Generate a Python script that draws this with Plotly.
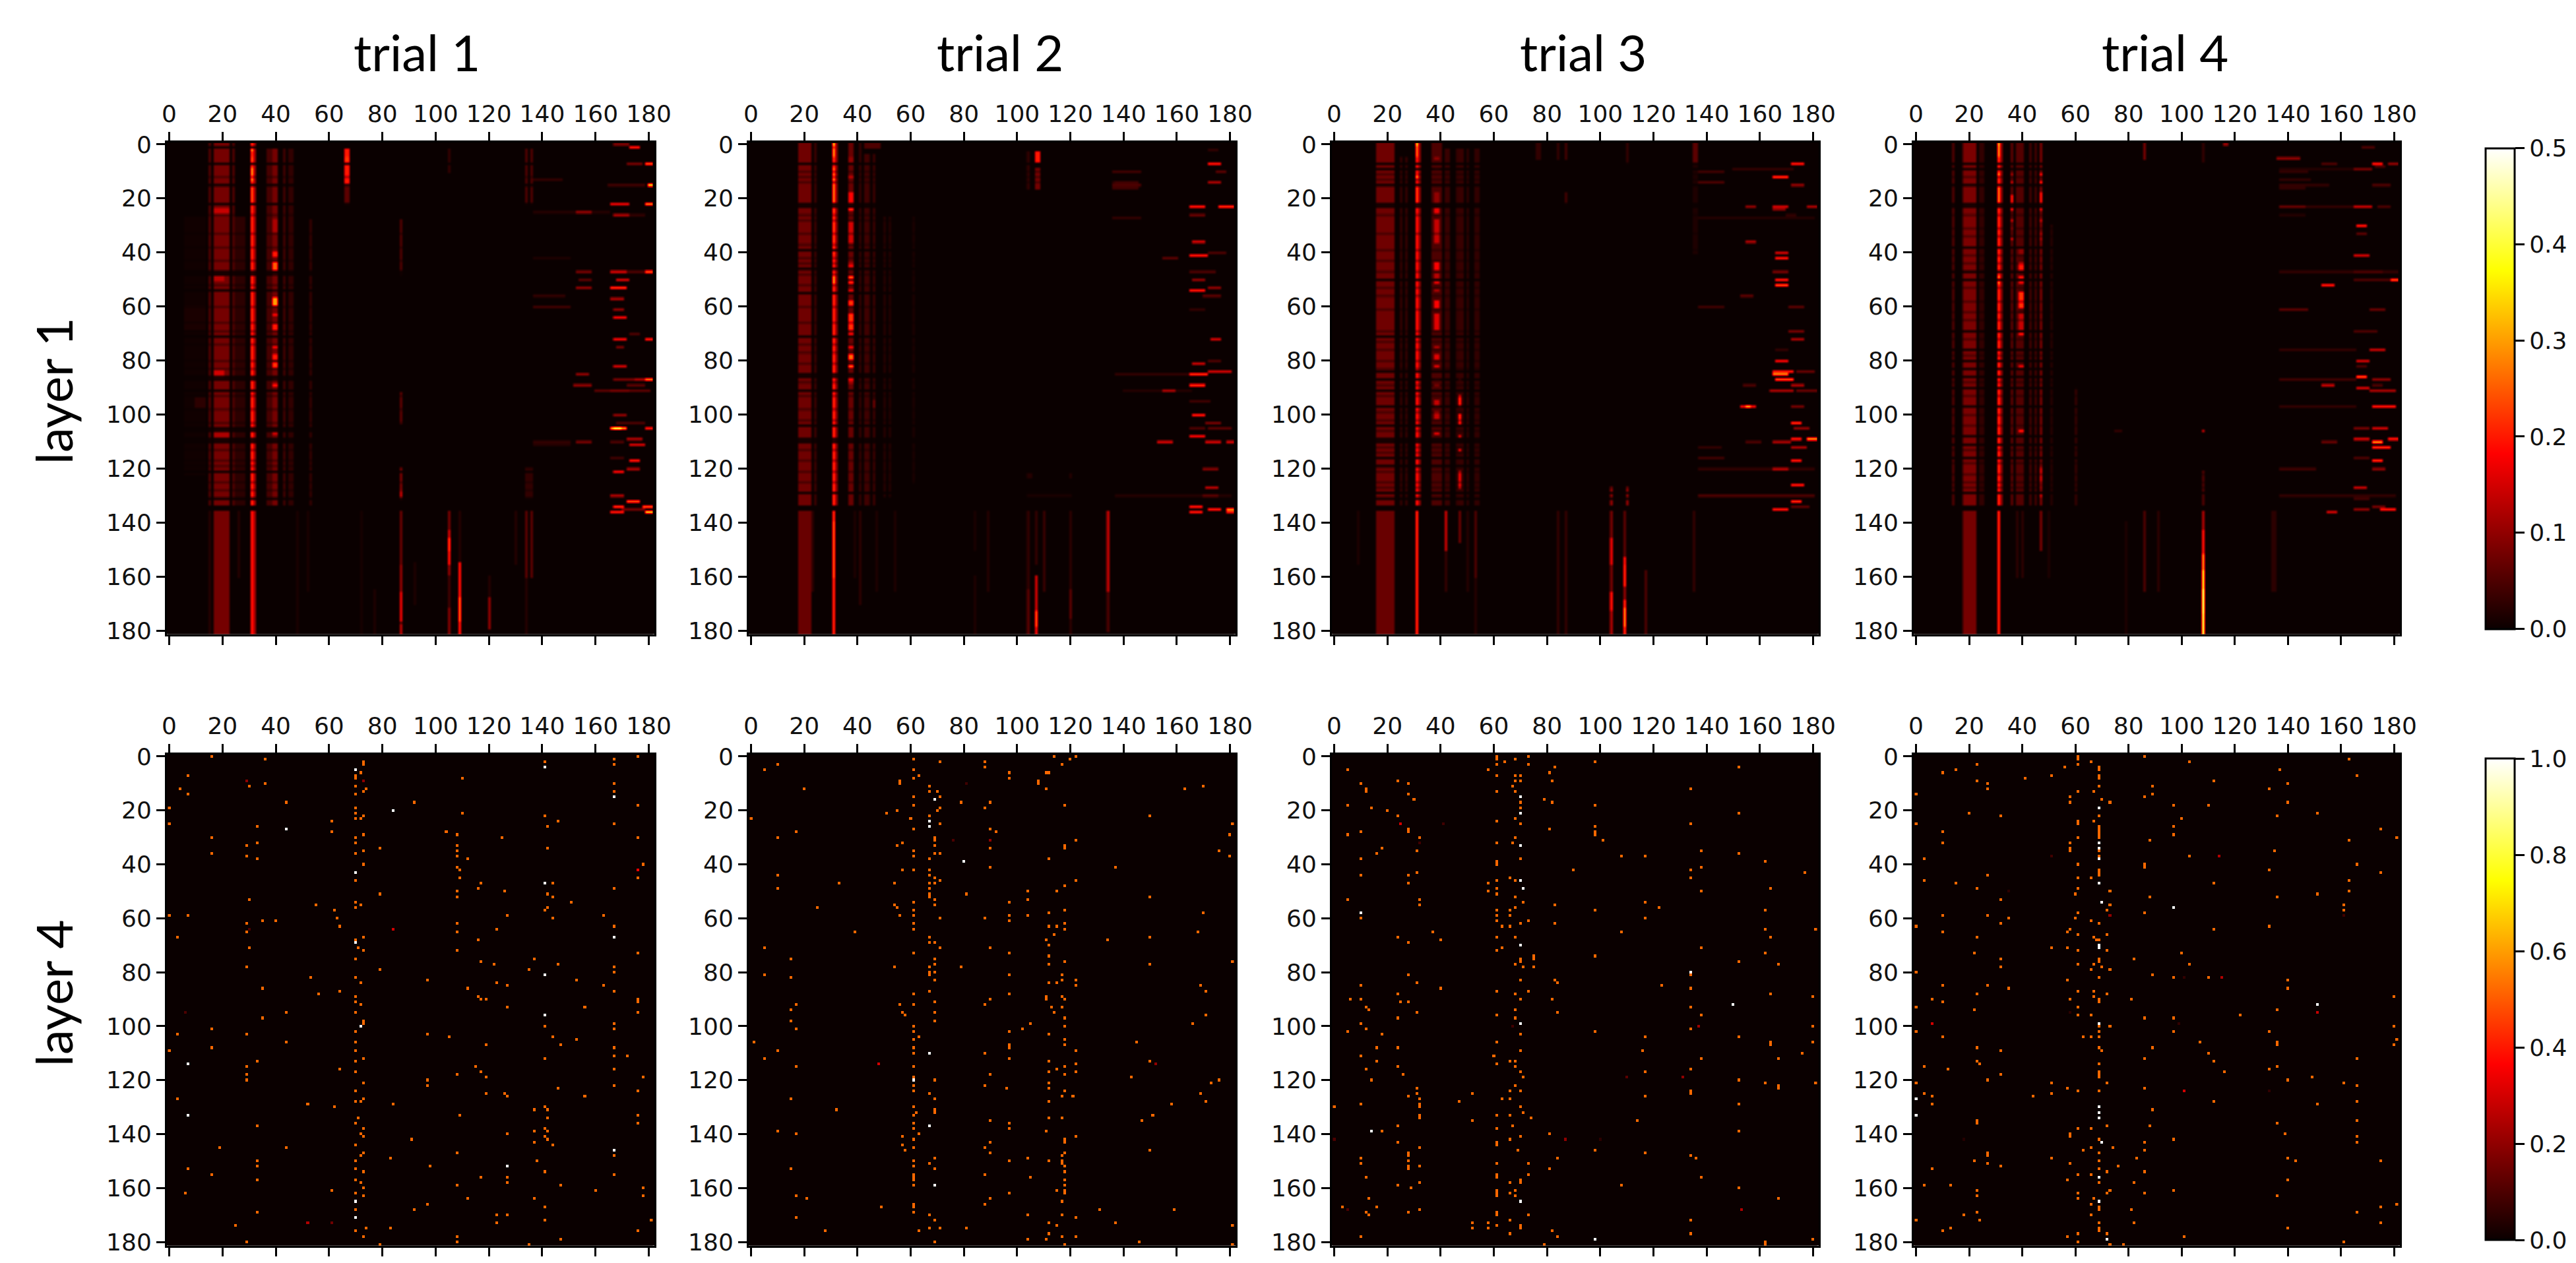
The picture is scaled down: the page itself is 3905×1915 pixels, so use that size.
import numpy as np
import plotly.graph_objects as go

# ---------- labels and ticks ----------
trials = ["trial 1", "trial 2", "trial 3", "trial 4"]
layers = ["layer 1", "layer 4"]
ticks = [0, 20, 40, 60, 80, 100, 120, 140, 160, 180]
l1_ticks = [0.0, 0.1, 0.2, 0.3, 0.4, 0.5]
l4_ticks = [0.0, 0.2, 0.4, 0.6, 0.8, 1.0]
N = 182

# ---------- layer 1: (x0, x1, y0, y1, value) ----------
t1_upper = [
    (15,15,0,133,.05),(17,22,0,133,.08),(24,24,0,133,.05),(25,28,27,133,.025),(31,31,0,133,.22),(32,32,0,133,.12),
    (37,38,2,133,.045),(39,40,2,133,.08),(43,43,2,133,.04),(45,46,2,133,.03),(53,53,28,133,.03),
    (66,67,2,15,.2),(66,67,16,22,.06),(87,87,28,48,.05),(87,87,92,103,.06),(87,87,120,131,.08),
    (105,105,2,10,.03),(134,134,2,22,.05),(136,136,2,22,.05),(134,136,120,131,.03),(6,13,27,122,.005),(6,13,60,68,.012),(10,13,94,97,.025),
    (17,22,24,25,.14),(17,20,49,50,.13),(17,20,84,86,.15),(17,22,106,108,.12),
    (31,31,2,2,.31),(31,31,5,7,.25),(31,31,9,13,.3),(31,31,16,21,.25),(31,31,131,131,.24),
    (39,40,28,32,.12),(39,40,40,41,.2),(39,40,44,46,.25),(39,40,48,48,.22),(39,40,54,54,.2),(39,40,57,59,.3),
    (39,40,63,63,.18),(39,40,67,68,.2),(39,40,75,75,.18),(39,40,78,79,.2),(39,40,81,82,.22),(39,40,87,87,.15),(39,40,89,89,.2),(39,40,107,107,.15),
    (66,67,5,7,.22),(87,87,128,131,.14),
]
t1_dark = [1,7,15,22,47,48,54,71,86,87,91,105,106,109,110,121,131]
t1_dim = [12,26,33,38,43,52,60,66,69,74,80,83,93,98,103,113,117,119,125,128]
t1_lower = [
    (17,22,136,181,.08),(15,15,136,181,.02),(26,26,136,160,.02),(31,31,136,181,.2),(32,32,136,181,.12),(48,48,136,181,.012),(52,52,136,165,.012),
    (72,72,136,181,.01),(77,77,165,181,.015),(87,87,136,155,.07),(87,87,156,165,.1),(87,87,166,176,.17),(87,87,177,177,.06),(87,87,178,181,.13),
    (92,92,155,170,.015),(105,105,136,142,.08),(105,105,143,145,.15),(105,105,146,150,.24),(105,105,151,155,.2),(105,105,156,159,.1),(105,105,160,171,.04),(105,105,172,181,.09),
    (109,109,136,154,.02),(109,109,155,181,.2),(109,109,168,176,.27),(120,120,160,167,.02),(120,120,168,179,.1),(130,130,136,155,.02),(134,134,136,160,.06),(136,136,136,160,.06),(134,134,161,181,.02),
]
t1_streaks = [
    (167,172,0,.08),(173,176,1,.2),(172,177,7,.08),(179,181,7,.25),(137,147,13,.03),(165,178,15,.04),(180,181,15,.35),(166,172,22,.17),(179,181,22,.28),
    (153,158,25,.1),(137,165,25,.02),(167,172,26,.12),(172,178,26,.03),(137,150,42,.015),(153,158,47,.08),(166,171,47,.15),(171,178,47,.05),(179,181,47,.25),
    (154,158,50,.06),(168,172,50,.15),(153,158,53,.1),(166,171,53,.22),(137,148,56,.03),(166,170,57,.12),(137,150,60,.04),(167,170,61,.1),(167,171,64,.18),
    (173,176,70,.05),(167,171,72,.18),(179,181,72,.2),(168,170,75,.08),(167,171,82,.15),(153,157,85,.1),(167,175,87,.08),(175,178,87,.12),(179,181,87,.28),
    (152,158,89,.1),(172,178,89,.06),(160,180,91,.06),(166,172,91,.08),(167,171,100,.1),(168,178,103,.05),(166,171,105,.3),(167,169,105,.42),(179,181,105,.2),
    (172,177,109,.12),(153,158,110,.08),(137,150,110,.03),(166,170,110,.05),(173,178,111,.15),(137,150,111,.02),(166,170,116,.04),(173,176,117,.2),(172,176,120,.12),
    (167,170,121,.18),(166,170,130,.12),(172,176,132,.25),(167,170,134,.22),(178,181,134,.25),(170,178,135,.08),(166,170,136,.2),(179,181,136,.35),
]

t2_upper = [
    (18,22,0,133,.075),(24,24,0,133,.035),(31,31,0,133,.22),(32,32,0,133,.1),(37,38,0,133,.07),(41,41,0,133,.03),(43,44,4,133,.04),(46,46,4,133,.035),
    (50,50,27,130,.02),(52,52,27,130,.018),(61,61,27,125,.012),(43,48,0,1,.05),(107,108,3,6,.2),(107,108,9,16,.08),(104,104,3,16,.03),(136,145,14,16,.04),
    (31,31,0,0,.34),(31,31,2,4,.3),(31,31,9,11,.28),(31,31,12,13,.3),(31,31,15,21,.28),(31,31,24,40,.24),(31,31,49,51,.3),
    (37,38,5,6,.1),(37,38,12,12,.2),(37,38,18,22,.18),(37,38,24,24,.22),(37,38,29,36,.15),(37,38,44,46,.18),(37,38,49,49,.26),(37,38,51,51,.22),(37,38,54,54,.16),
    (37,38,58,59,.22),(37,38,63,68,.22),(37,38,70,70,.18),(37,38,75,75,.18),(37,38,78,79,.26),(37,38,82,82,.26),(37,38,86,88,.18),
    (46,46,95,97,.07),(104,105,122,123,.02),(120,120,122,123,.02),(104,120,129,130,.012),
]
t2_dark = [7,22,23,39,46,55,71,85,86,91,104,109,110,129]
t2_dim = [10,12,14,26,28,33,37,42,44,48,52,60,66,74,77,81,88,93,98,102,113,117,121,125]
t2_lower = [
    (18,22,136,181,.07),(22,23,136,165,.025),(31,31,136,181,.22),(31,31,140,160,.26),(39,39,136,160,.015),(41,41,136,170,.025),(47,47,136,165,.015),(54,54,136,165,.015),
    (84,84,160,181,.015),(84,84,136,150,.012),(89,89,136,165,.02),(104,104,165,181,.06),(104,104,136,164,.03),(107,107,136,155,.03),(107,107,160,172,.15),(107,107,173,178,.26),(107,107,179,181,.18),
    (110,110,136,165,.035),(120,120,136,181,.025),(120,120,165,175,.06),(134,134,136,165,.14),(134,134,166,180,.05),
]
t2_streaks = [
    (172,175,2,.03),(172,176,7,.2),(136,146,10,.04),(175,178,10,.06),(172,176,14,.12),(136,146,15,.05),(165,170,23,.2),(176,181,23,.22),(165,170,26,.07),(136,146,27,.03),
    (166,170,36,.15),(172,178,40,.05),(165,171,41,.2),(155,160,42,.06),(165,174,47,.05),(166,170,50,.1),(172,176,53,.1),(165,170,54,.2),(170,176,56,.06),(165,170,61,.03),
    (173,176,72,.15),(172,176,80,.05),(166,170,81,.14),(172,180,84,.15),(165,171,85,.22),(137,165,85,.03),(165,170,89,.22),(155,159,91,.12),(140,165,91,.02),(165,172,95,.04),
    (166,170,100,.2),(171,176,103,.08),(165,170,105,.05),(172,180,105,.06),(165,170,108,.18),(153,158,110,.15),(171,176,110,.15),(179,181,110,.15),(170,175,120,.09),
    (171,175,127,.13),(137,180,130,.02),(170,175,130,.06),(165,169,134,.2),(172,176,135,.2),(179,181,135,.28),(165,169,136,.2),(179,181,136,.2),
]

t3_upper = [
    (16,22,0,133,.075),(25,25,5,133,.03),(27,27,5,133,.03),(31,31,0,133,.2),(32,32,0,133,.1),(37,40,0,133,.05),(42,43,2,133,.035),(46,46,2,133,.03),(47,48,2,133,.035),
    (50,50,2,133,.025),(53,54,2,133,.03),(76,77,0,5,.03),(84,84,0,5,.03),(87,87,0,5,.04),(87,87,18,22,.04),(110,110,0,7,.03),(135,136,0,7,.06),(135,136,8,40,.015),
    (104,104,127,133,.1),(110,110,127,133,.1),
    (31,31,0,0,.35),(31,31,1,4,.27),(31,31,9,9,.2),(31,31,11,12,.3),(31,31,16,21,.24),
    (38,39,5,5,.1),(38,39,9,9,.11),(38,39,18,22,.1),(38,39,24,25,.17),(38,39,28,36,.14),(38,39,44,46,.18),(38,39,48,49,.13),(38,39,51,51,.17),(38,39,54,54,.12),
    (38,39,58,60,.18),(38,39,63,68,.16),(38,39,75,75,.12),(38,39,78,79,.16),(38,39,82,82,.16),(38,39,87,87,.12),(38,39,89,89,.12),(38,39,95,97,.14),(38,39,99,101,.14),(38,39,107,107,.16),
    (47,47,87,87,.2),(47,47,93,97,.22),(47,47,100,103,.22),(47,47,108,108,.17),(47,47,113,113,.18),(47,47,121,126,.18),(47,47,127,127,.2),
]
t3_dark = [7,9,15,22,23,50,71,84,87,91,97,104,109,110,116,119,129,131]
t3_dim = [11,13,26,33,39,43,47,53,56,61,69,73,76,80,83,89,93,99,102,106,112,114,121,125,127]
t3_lower = [
    (16,22,136,181,.07),(31,31,136,181,.22),(42,42,136,150,.14),(42,42,151,165,.03),(47,47,136,147,.07),(53,53,136,160,.05),(53,53,161,181,.02),(50,50,136,165,.02),
    (9,9,136,155,.015),(84,84,136,181,.03),(87,87,136,181,.03),(104,104,136,145,.08),(104,104,146,155,.17),(104,104,156,165,.08),(104,104,166,172,.2),(104,104,173,181,.12),
    (109,109,136,152,.06),(109,109,153,155,.2),(109,109,156,163,.22),(109,109,164,168,.1),(109,109,169,181,.22),(109,109,172,178,.3),(117,117,158,181,.05),(135,135,136,165,.03),
]
t3_streaks = [
    (172,176,7,.2),(150,172,9,.03),(137,146,10,.04),(165,170,12,.22),(137,146,14,.05),(172,176,15,.1),(155,158,23,.1),(165,170,23,.15),(178,181,23,.12),(165,169,24,.1),(170,173,26,.03),(137,180,27,.02),
    (155,158,36,.12),(166,170,40,.15),(166,170,42,.2),(165,170,47,.08),(166,170,50,.2),(166,170,52,.25),(153,157,56,.06),(137,146,60,.04),(171,176,60,.06),(171,176,69,.08),(172,176,72,.12),(166,170,76,.03),(166,170,80,.18),
    (165,172,84,.2),(174,180,84,.07),(165,170,85,.28),(166,172,87,.25),(172,176,89,.12),(154,158,89,.05),(164,172,91,.12),(174,181,91,.07),(153,158,97,.18),(155,156,97,.32),(172,176,97,.08),
    (172,175,103,.22),(173,178,105,.1),(172,175,109,.2),(178,181,109,.3),(155,160,110,.05),(165,171,110,.12),(172,177,112,.12),(137,145,112,.03),(137,146,116,.04),(172,175,117,.2),(165,170,120,.13),(137,180,120,.03),
    (172,176,126,.2),(137,180,130,.05),(172,175,132,.22),(172,178,134,.06),(165,170,135,.2),
]

t4_upper = [
    (14,14,0,133,.05),(18,22,0,133,.085),(24,25,0,133,.03),(31,31,0,133,.22),(32,32,0,133,.1),(36,36,0,133,.06),(38,40,0,133,.055),(43,43,0,133,.04),(45,45,0,133,.04),(47,47,0,133,.08),
    (51,51,30,133,.02),(60,60,90,133,.03),(86,86,0,5,.08),(108,108,0,6,.03),(116,117,0,0,.1),(108,108,121,133,.05),(75,77,106,106,.03),(108,108,106,106,.14),
    (31,31,0,0,.33),(31,31,1,4,.3),(31,31,6,6,.2),(31,31,11,11,.3),(31,31,16,21,.28),(31,31,49,51,.3),
    (36,36,11,11,.12),(36,36,14,14,.15),(36,36,19,22,.2),(36,36,24,24,.2),(36,36,28,28,.15),(36,36,31,31,.13),(36,36,35,35,.15),
    (39,40,39,40,.1),(39,40,44,46,.2),(39,40,49,49,.2),(39,40,51,51,.18),(39,40,55,60,.22),(39,40,63,68,.14),(39,40,70,70,.2),(39,40,82,82,.17),(39,40,106,106,.2),
    (47,47,11,11,.2),(47,47,14,14,.22),(47,47,18,22,.2),(47,47,24,24,.18),(47,47,28,28,.15),(47,47,33,35,.12),(47,47,120,125,.15),(47,47,127,127,.15),(47,47,130,130,.15),
]
t4_dark = [7,9,15,22,23,38,47,50,69,76,80,83,86,90,97,108,111,116,129]
t4_dim = [12,26,31,34,41,44,53,58,62,65,72,78,88,93,100,104,113,118,122,125,127]
t4_lower = [
    (18,22,136,181,.08),(31,31,136,181,.22),(47,47,136,150,.08),(38,38,136,160,.025),(40,40,136,160,.025),(50,50,136,160,.015),(79,79,140,181,.015),(86,86,136,165,.05),(91,91,136,165,.025),
    (108,108,136,142,.12),(108,108,143,151,.2),(108,108,152,157,.3),(108,108,158,164,.38),(108,108,165,173,.44),(108,108,174,181,.42),(134,135,136,165,.025),
]
t4_streaks = [
    (168,172,1,.05),(136,144,5,.1),(172,175,7,.2),(178,181,7,.1),(153,158,7,.05),(173,176,8,.05),(165,171,9,.08),(137,165,9,.02),(137,147,10,.03),(137,148,13,.03),(137,155,15,.03),(172,178,15,.05),(137,146,16,.03),
    (137,146,23,.07),(146,165,23,.03),(165,171,23,.14),(174,178,23,.05),(137,146,26,.02),(166,169,30,.2),(166,169,33,.06),(165,170,41,.15),(137,181,47,.03),(165,175,47,.05),(165,178,50,.05),(179,181,50,.25),(153,157,52,.2),
    (137,147,61,.06),(171,176,61,.07),(165,173,69,.05),(137,165,76,.03),(171,176,76,.14),(166,170,80,.15),(166,169,82,.05),(166,169,86,.25),(137,165,87,.04),(172,178,87,.1),(153,157,89,.14),(172,175,89,.05),(166,170,90,.15),(171,180,91,.12),
    (172,180,97,.2),(137,165,97,.03),(165,170,105,.08),(172,177,105,.15),(165,170,109,.15),(178,181,109,.2),(172,175,110,.3),(153,158,110,.07),(172,178,112,.22),(165,170,116,.05),(172,175,117,.22),(172,176,120,.1),(137,150,120,.04),
    (165,169,127,.14),(137,180,130,.03),(165,170,131,.04),(172,176,134,.08),(165,170,135,.1),(175,180,135,.2),(155,158,136,.15),
]

# ---------- layer 4: (x, y) ----------
t1_orange = [(16,0),(36,1),(73,2),(73,3),(141,2),(176,0),(167,1),(167,3),(72,6),(70,7),(70,8),(7,7),(110,8),(167,10),(36,10),(30,11),(70,11),(4,12),(74,12),(73,13),(167,13),(7,14),(70,14),(44,17),(92,17),(0,19),(70,19),(176,18),(110,21),(70,21),(70,23),(72,23),(73,22),(141,22),(146,24),(61,24),(0,25),(167,25),(142,26),(33,26),(61,28),(104,28),(73,29),(108,29),(70,30),(16,30),(125,30),(176,30),(33,32),(70,32),(29,33),(108,33),(79,34),(142,34),(16,36),(70,36),(108,35),(73,35),(29,37),(108,37),(33,38),(112,38),(73,40),(178,40),(108,41),(109,42),(70,46),(109,45),(176,45),(117,47),(144,47),(116,49),(167,49),(126,50),(108,50),(79,51),(142,51),(108,52),(144,52),(30,53),(70,54),(151,54),(55,55),(72,55),(70,56),(142,56),(62,57),(141,57),(0,59),(7,59),(127,59),(163,59),(63,60),(144,60),(29,62),(35,61),(40,61),(108,62),(64,63),(167,63),(123,64),(29,65),(108,65),(73,67),(3,67),(116,68),(70,68),(71,71),(30,71),(73,72),(108,72),(176,73),(70,75),(117,76),(137,75),(122,77),(146,77),(29,78),(167,78),(79,79),(135,79),(167,80),(53,82),(70,82),(97,83),(153,83),(72,84),(123,84),(127,85),(163,85),(35,86),(112,86),(64,87),(167,87),(56,88),(70,89),(116,89),(176,90),(117,90),(119,90),(70,91),(176,91),(72,92),(127,93),(156,93),(44,95),(70,95),(176,95),(35,97),(73,98),(73,99),(141,100),(167,99),(16,101),(167,101),(3,103),(70,102),(29,103),(97,103),(105,104),(144,104),(44,106),(153,105),(70,106),(119,107),(147,107),(16,108),(167,108),(0,109),(70,109),(167,111),(172,111),(73,112),(141,112),(33,113),(70,113),(29,115),(115,115),(64,116),(167,116),(70,117),(117,117),(29,118),(108,118),(29,120),(97,120),(119,119),(178,119),(73,121),(97,122),(167,122),(146,123),(70,124),(176,124),(3,127),(119,125),(126,125),(127,126),(156,126),(70,128),(72,128),(73,127),(52,129),(84,129),(62,130),(141,130),(137,131),(142,131),(109,133),(71,134),(142,134),(176,133),(70,136),(33,137),(176,136),(73,138),(141,138),(137,139),(142,139),(127,140),(72,140),(73,141),(141,141),(91,142),(142,142),(137,143),(70,144),(144,144),(19,145),(44,145),(73,147),(108,147),(72,148),(167,148),(83,149),(33,150),(70,150),(138,150),(33,152),(98,152),(7,153),(70,153),(73,154),(141,154),(16,155),(167,155),(33,157),(70,157),(127,156),(117,156),(72,158),(127,158),(108,159),(147,159),(73,160),(178,160),(61,161),(160,161),(6,162),(70,162),(73,163),(178,163),(112,164),(137,164),(97,166),(141,167),(70,168),(33,169),(92,168),(123,170),(127,170),(141,172),(181,172),(123,173),(25,174),(74,175),(83,175),(70,176),(176,176),(108,178),(73,178),(147,179),(29,180),(108,180),(79,181),(135,181)]
t1_white = [(70,5),(141,4),(167,15),(84,20),(44,27),(70,43),(141,47),(70,69),(167,67),(141,81),(141,96),(72,100),(7,114),(7,133),(167,146),(127,152),(70,165),(70,171)]
t1_red = [(29,9,.2),(73,9,.2),(176,42,.35),(84,64,.3),(30,64,.1),(6,95,.1),(52,173,.25),(61,173,.15)]

t2_orange = [(5,5),(10,3),(61,1),(61,5),(63,7),(61,8),(56,9),(56,10),(71,2),(88,2),(88,4),(97,6),(97,8),(114,0),(117,3),(111,6),(122,0),(120,1),(108,9),(108,10),(112,6),(20,12),(67,11),(67,13),(70,13),(61,15),(71,15),(79,17),(90,17),(88,19),(61,18),(118,18),(70,20),(55,20),(71,19),(51,21),(67,22),(60,23),(0,23),(150,22),(61,27),(71,25),(181,25),(90,27),(92,28),(163,12),(170,11),(111,12),(10,30),(17,28),(69,30),(69,31),(90,34),(57,32),(55,33),(69,33),(71,36),(61,35),(61,37),(69,36),(118,33),(118,34),(122,31),(180,29),(176,35),(180,37),(67,38),(90,41),(112,38),(137,41),(10,44),(61,42),(57,42),(67,42),(67,44),(69,45),(71,46),(69,47),(54,47),(33,47),(67,47),(118,48),(122,46),(10,49),(67,49),(115,50),(104,50),(81,51),(67,51),(67,52),(150,52),(69,53),(104,53),(61,54),(97,54),(69,55),(54,55),(55,56),(25,56),(61,57),(118,57),(112,58),(170,58),(56,59),(61,59),(97,59),(104,59),(71,60),(88,60),(97,61),(61,62),(118,62),(112,63),(115,63),(118,64),(61,64),(39,65),(168,65),(67,67),(114,66),(111,68),(134,68),(150,67),(67,69),(69,69),(5,71),(112,70),(71,71),(90,71),(61,73),(97,73),(15,75),(69,75),(112,74),(118,76),(181,76),(69,77),(112,77),(150,77),(67,78),(54,78),(79,78),(69,80),(67,80),(67,81),(5,81),(97,81),(117,81),(15,82),(69,83),(112,84),(115,84),(117,83),(122,83),(122,85),(169,85),(171,87),(67,87),(61,88),(97,88),(111,89),(117,89),(118,90),(111,90),(90,90),(69,91),(88,92),(61,92),(17,92),(56,92),(113,93),(117,93),(15,94),(69,95),(57,95),(58,96),(114,95),(171,96),(118,97),(15,98),(69,98),(105,99),(166,99),(61,100),(118,100),(17,101),(102,101),(97,102),(61,102),(112,103),(63,104),(61,105),(118,105),(1,106),(145,106),(97,107),(97,108),(118,107),(10,109),(122,109),(61,108),(61,110),(88,110),(5,112),(97,112),(112,113),(150,113),(122,114),(17,115),(115,116),(118,115),(61,115),(112,117),(122,117),(90,118),(118,118),(143,119),(61,119),(69,120),(176,120),(173,121),(88,122),(112,121),(112,123),(96,123),(61,122),(61,124),(118,124),(67,125),(169,125),(117,126),(121,126),(15,127),(69,127),(171,128),(112,128),(158,129),(61,130),(32,131),(69,131),(69,132),(62,132),(61,133),(151,133),(112,134),(117,134),(90,135),(147,135),(61,136),(97,136),(97,138),(61,138),(10,139),(111,139),(17,140),(63,140),(57,141),(122,141),(118,142),(118,143),(61,142),(90,143),(57,144),(61,145),(88,145),(58,146),(150,146),(90,147),(118,147),(69,149),(117,148),(104,149),(112,150),(117,150),(61,150),(97,150),(67,151),(117,151),(61,152),(118,152),(15,153),(69,153),(118,154),(61,155),(61,156),(61,157),(88,155),(105,156),(118,157),(118,159),(61,159),(115,161),(97,162),(118,161),(118,162),(17,163),(21,164),(90,164),(117,165),(61,166),(61,167),(88,166),(49,167),(131,168),(159,168),(104,170),(61,169),(67,170),(117,170),(17,171),(122,171),(112,173),(69,172),(115,174),(137,173),(71,175),(181,174),(67,175),(81,175),(28,176),(63,176),(112,177),(117,178),(122,178),(104,179),(111,179),(69,180),(146,180),(181,181),(118,181)]
t2_white = [(69,16),(67,24),(67,26),(80,39),(67,110),(61,120),(67,137),(69,159)]
t2_red = [(48,114,.3),(152,114,.2),(81,10,.08),(76,31,.1),(90,31,.2)]

t3_orange = [(61,0),(61,1),(64,2),(68,1),(73,0),(98,2),(61,3),(73,3),(58,5),(5,5),(83,4),(81,6),(152,4),(70,7),(70,9),(68,7),(61,7),(82,9),(68,9),(10,10),(24,9),(28,10),(12,12),(12,13),(67,11),(134,12),(61,13),(68,13),(28,14),(30,16),(79,16),(82,17),(70,17),(70,19),(5,18),(14,19),(98,18),(20,20),(152,21),(24,22),(68,23),(61,24),(134,25),(70,25),(28,27),(28,28),(81,27),(98,26),(98,28),(98,29),(5,29),(10,28),(32,30),(101,31),(68,30),(67,32),(61,32),(18,34),(16,36),(31,35),(138,35),(108,37),(117,37),(152,36),(10,38),(70,38),(61,39),(61,40),(162,39),(138,41),(134,42),(90,42),(177,43),(10,44),(28,44),(31,43),(134,45),(66,45),(68,46),(61,46),(28,47),(58,47),(164,49),(61,49),(58,50),(138,50),(61,51),(68,52),(5,53),(32,53),(71,54),(117,54),(32,55),(83,55),(122,56),(68,56),(98,57),(162,57),(61,57),(66,57),(61,59),(66,59),(10,60),(117,60),(61,61),(73,61),(70,62),(83,62),(181,64),(63,63),(66,63),(162,64),(37,65),(108,65),(61,67),(164,67),(24,67),(68,67),(28,69),(40,68),(138,71),(63,71),(61,72),(162,73),(75,74),(75,75),(98,74),(70,75),(70,76),(152,76),(68,77),(167,77),(71,78),(75,78),(28,81),(134,81),(83,83),(84,84),(70,83),(10,85),(123,85),(31,84),(40,86),(134,86),(61,87),(73,87),(24,88),(68,88),(164,88),(180,89),(70,90),(82,90),(6,90),(10,90),(25,91),(28,91),(12,93),(13,94),(134,93),(68,94),(31,95),(84,95),(138,96),(61,96),(24,97),(68,97),(10,99),(180,100),(12,101),(134,101),(5,102),(98,102),(18,103),(70,103),(117,104),(152,104),(61,106),(164,106),(164,107),(180,106),(16,108),(24,108),(70,109),(116,109),(176,110),(10,111),(60,111),(138,112),(167,112),(66,113),(68,113),(16,113),(61,114),(24,115),(68,115),(12,116),(134,116),(70,117),(117,117),(26,118),(71,119),(14,120),(152,120),(68,122),(162,121),(167,122),(167,123),(181,121),(31,123),(66,124),(134,124),(134,125),(70,124),(31,125),(52,125),(28,126),(117,126),(32,127),(63,127),(66,127),(47,128),(32,129),(32,130),(10,129),(152,129),(0,130),(70,130),(71,132),(61,133),(66,133),(74,134),(32,133),(32,134),(52,135),(114,135),(24,137),(67,137),(61,138),(18,139),(152,139),(81,140),(70,141),(66,142),(61,143),(61,144),(24,143),(32,145),(69,146),(98,146),(117,147),(28,147),(28,148),(134,148),(136,149),(84,149),(10,149),(61,151),(73,151),(28,150),(10,151),(28,152),(32,152),(28,153),(81,153),(73,155),(61,155),(61,156),(138,156),(12,156),(66,158),(70,157),(24,159),(32,158),(108,159),(70,158),(29,160),(152,160),(61,161),(61,162),(61,163),(66,162),(68,161),(68,163),(13,164),(167,164),(3,167),(16,167),(12,169),(13,170),(32,168),(28,169),(61,169),(61,170),(73,170),(66,172),(134,172),(52,173),(58,173),(61,174),(70,174),(70,175),(52,175),(58,175),(82,176),(66,177),(134,177),(10,178),(84,178),(180,179),(162,180),(162,181),(79,181)]
t3_white = [(70,15),(70,21),(70,33),(70,46),(71,49),(10,58),(70,70),(134,80),(150,92),(70,99),(14,139),(70,165),(98,179)]
t3_red = [(25,25,.3),(41,25,.08),(32,32,.08),(67,100,.08),(137,100,.22),(110,119,.12),(131,119,.2),(87,142,.2),(0,142,.1),(153,168,.25),(5,168,.1),(100,142,.05)]

t4_orange = [(61,0),(61,1),(86,0),(66,2),(103,2),(163,1),(23,3),(61,3),(56,4),(69,4),(69,5),(15,5),(137,5),(10,6),(51,7),(69,7),(69,8),(166,7),(41,8),(23,9),(112,9),(27,10),(27,12),(140,10),(69,11),(89,11),(61,13),(67,13),(89,14),(133,12),(0,14),(86,15),(58,15),(70,16),(73,17),(58,17),(140,17),(97,18),(110,18),(20,21),(151,21),(32,22),(69,22),(100,23),(136,22),(61,24),(61,25),(67,24),(0,25),(97,26),(69,26),(69,27),(69,28),(69,29),(69,30),(175,27),(10,28),(97,29),(61,30),(181,30),(88,31),(163,31),(10,32),(58,32),(58,34),(69,35),(58,35),(69,37),(103,37),(135,35),(3,38),(61,40),(86,40),(86,41),(166,40),(133,42),(69,42),(69,43),(69,44),(175,43),(27,44),(61,45),(66,45),(3,46),(15,47),(112,47),(163,46),(23,49),(61,49),(73,50),(163,50),(60,51),(151,51),(88,52),(136,52),(32,53),(73,55),(161,55),(72,57),(161,57),(61,58),(86,58),(10,59),(27,59),(35,60),(60,60),(66,61),(32,62),(69,62),(0,63),(133,63),(58,64),(57,65),(112,64),(10,65),(61,66),(72,66),(23,67),(67,67),(68,68),(69,68),(51,71),(57,71),(61,72),(72,72),(100,73),(22,73),(82,75),(32,75),(69,75),(69,76),(103,77),(61,77),(67,77),(32,78),(70,78),(66,79),(73,79),(0,80),(89,81),(69,82),(97,82),(110,82),(57,83),(140,83),(10,85),(27,85),(35,86),(140,86),(61,87),(67,87),(23,88),(72,88),(67,89),(180,89),(69,90),(81,90),(6,90),(58,90),(10,91),(69,91),(0,93),(61,93),(22,94),(136,94),(61,96),(66,96),(122,96),(86,97),(97,97),(69,100),(0,102),(133,102),(73,100),(180,100),(97,102),(69,102),(63,104),(66,104),(10,104),(69,104),(107,106),(136,106),(136,107),(181,105),(23,108),(180,107),(69,108),(89,108),(32,109),(70,109),(110,110),(86,112),(166,112),(24,114),(23,113),(69,114),(112,113),(3,115),(12,116),(136,115),(133,116),(116,117),(32,118),(69,117),(69,118),(69,119),(27,120),(140,120),(149,119),(51,121),(72,121),(0,121),(161,121),(57,123),(166,122),(61,124),(86,123),(69,124),(51,125),(3,125),(6,126),(44,126),(112,128),(166,128),(6,129),(151,129),(89,131),(23,135),(23,136),(72,137),(88,137),(61,138),(66,138),(136,136),(166,135),(58,141),(58,140),(139,140),(69,142),(97,142),(166,141),(166,143),(86,143),(66,145),(74,145),(63,146),(86,146),(27,147),(27,148),(69,147),(140,149),(51,149),(83,149),(69,150),(22,150),(143,150),(175,150),(27,151),(58,151),(32,152),(76,152),(6,153),(69,153),(72,154),(86,154),(61,155),(66,155),(57,157),(140,157),(69,158),(82,158),(3,159),(13,159),(72,162),(73,161),(97,161),(23,161),(23,163),(86,162),(61,162),(136,163),(61,164),(67,164),(66,166),(181,166),(69,167),(69,168),(175,167),(81,168),(23,169),(166,169),(18,170),(66,170),(0,172),(24,172),(82,173),(69,173),(69,175),(175,173),(13,175),(140,175),(10,176),(69,176),(72,177),(61,177),(57,178),(101,178),(61,180),(161,180),(73,181),(78,181)]
t4_white = [(69,19),(69,32),(69,34),(69,38),(69,47),(70,54),(97,56),(69,70),(69,71),(151,92),(69,99),(0,127),(0,133),(69,130),(69,132),(69,134),(70,143),(69,156),(69,165),(72,179)]
t4_red = [(6,99,.3),(151,95,.28),(51,37,.08),(114,37,.25),(115,82,.25),(101,82,.06),(73,59,.2),(161,59,.08),(35,50,.05),(58,95,.05),(99,99,.06),(101,124,.3),(133,124,.06),(18,142,.04)]

ORANGE_VALUE = 0.52
WHITE_VALUE = 1.0


def layer1_matrix(upper, dark, dim, lower, streaks):
    z = np.zeros((N, N))
    for x0, x1, y0, y1, v in upper:
        z[y0:y1 + 1, x0:x1 + 1] = np.maximum(z[y0:y1 + 1, x0:x1 + 1], v)
    for r in dim:
        z[r, :137] *= 0.65
    for r in dark:
        z[r, :137] *= 0.12
    for x0, x1, y0, y1, v in lower:
        z[y0:y1 + 1, x0:x1 + 1] = np.maximum(z[y0:y1 + 1, x0:x1 + 1], v)
    for x0, x1, y, v in streaks:
        z[y, x0:x1 + 1] = np.maximum(z[y, x0:x1 + 1], v)
    return z


def layer4_matrix(orange, white, red):
    z = np.zeros((N, N))
    for x, y in orange:
        z[y, x] = ORANGE_VALUE
    for x, y in white:
        z[y, x] = WHITE_VALUE
    for x, y, v in red:
        z[y, x] = v
    return z


layer1 = [
    layer1_matrix(t1_upper, t1_dark, t1_dim, t1_lower, t1_streaks),
    layer1_matrix(t2_upper, t2_dark, t2_dim, t2_lower, t2_streaks),
    layer1_matrix(t3_upper, t3_dark, t3_dim, t3_lower, t3_streaks),
    layer1_matrix(t4_upper, t4_dark, t4_dim, t4_lower, t4_streaks),
]
layer4 = [
    layer4_matrix(t1_orange, t1_white, t1_red),
    layer4_matrix(t2_orange, t2_white, t2_red),
    layer4_matrix(t3_orange, t3_white, t3_red),
    layer4_matrix(t4_orange, t4_white, t4_red),
]

# ---------- figure ----------
W, H = 3905, 1915
FONT_TICK = "DejaVu Sans"
FONT_TITLE = "Lato"
TICK_SIZE = 36
hot = [[0, "rgb(10,0,0)"], [0.365, "rgb(255,0,0)"], [0.746, "rgb(255,255,0)"], [1, "rgb(255,255,255)"]]
panel_x = [(253, 992), (1135, 1873), (2019, 2757), (2901, 3638)]
panel_y = [(215.5, 961.5), (1143.5, 1888.5)]

fig = go.Figure()
axis_id = 0
for row, matrices in enumerate([layer1, layer4]):
    for col, z in enumerate(matrices):
        axis_id += 1
        suffix = "" if axis_id == 1 else str(axis_id)
        fig.add_trace(go.Heatmap(
            z=z, x=list(range(N)), y=list(range(N)),
            coloraxis="coloraxis" if row == 0 else "coloraxis2",
            zsmooth="best" if row == 0 else False,
            hoverinfo="skip",
            xaxis="x" + suffix, yaxis="y" + suffix,
        ))
        x0, x1 = panel_x[col]
        y0, y1 = panel_y[row]
        fig.layout["xaxis" + suffix] = dict(
            domain=[x0 / W, x1 / W], anchor="y" + suffix, side="top", range=[-0.87, 182.1],
            tickmode="array", tickvals=ticks, ticks="outside", ticklen=13, tickwidth=3, tickcolor="black",
            showline=True, linewidth=3, linecolor="black", mirror="ticks", showgrid=False, zeroline=False,
            tickfont=dict(family=FONT_TICK, size=TICK_SIZE, color="#111"),
        )
        fig.layout["yaxis" + suffix] = dict(
            domain=[1 - y1 / H, 1 - y0 / H], anchor="x" + suffix, range=[181.3, -0.85],
            tickmode="array", tickvals=ticks, ticks="outside", ticklen=13, tickwidth=3, tickcolor="black",
            showline=True, linewidth=3, linecolor="black", mirror=True, showgrid=False, zeroline=False,
            tickfont=dict(family=FONT_TICK, size=TICK_SIZE, color="#111"),
        )


def colorbar(y_top, y_bottom, tickvals, fmt):
    return dict(
        x=3768 / W, xanchor="left", xpad=0, ypad=0, y=1 - y_top / H, yanchor="top",
        len=(y_bottom - y_top) / H, lenmode="fraction", thickness=44, thicknessmode="pixels",
        outlinewidth=3, outlinecolor="black", ticks="outside", ticklen=14, tickwidth=3, tickcolor="black",
        tickmode="array", tickvals=tickvals, tickformat=fmt,
        tickfont=dict(family=FONT_TICK, size=TICK_SIZE, color="#111"),
    )


annotations = []
for text, x in zip(trials, [632, 1516, 2400, 3282]):
    annotations.append(dict(text=text, x=x / W, y=1 - 78 / H, xref="paper", yref="paper", xanchor="center",
                            yanchor="middle", showarrow=False, font=dict(family=FONT_TITLE, size=76, color="black")))
for text, y in zip(layers, [593, 1506]):
    annotations.append(dict(text=text, x=80 / W, y=1 - y / H, xref="paper", yref="paper", xanchor="center",
                            yanchor="middle", textangle=-90, showarrow=False,
                            font=dict(family=FONT_TITLE, size=76, color="black")))

fig.update_layout(
    width=W, height=H, margin=dict(l=0, r=0, t=0, b=0, autoexpand=False), paper_bgcolor="white", plot_bgcolor="rgb(10,0,0)",
    coloraxis=dict(colorscale=hot, cmin=0, cmax=0.5, colorbar=colorbar(224.5, 953.5, l1_ticks, ".1f")),
    coloraxis2=dict(colorscale=hot, cmin=0, cmax=1.0, colorbar=colorbar(1150, 1880, l4_ticks, ".1f")),
    annotations=annotations,
)

fig.write_html("out.html", config={"displayModeBar": False}, post_script="document.body.style.margin='0';")
